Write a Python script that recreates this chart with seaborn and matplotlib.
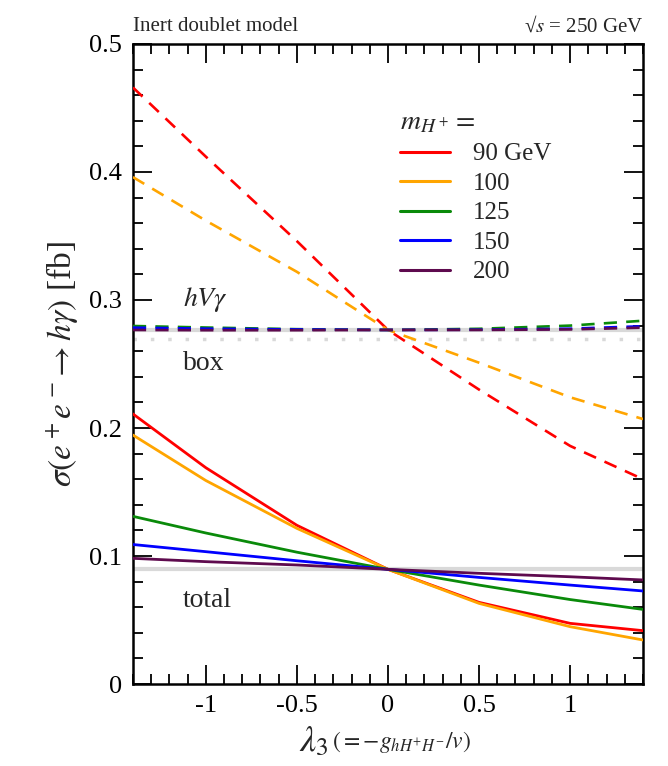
import numpy as np
import pandas as pd
import matplotlib
matplotlib.use('Agg')
import matplotlib.pyplot as plt
import seaborn as sns
from matplotlib.ticker import MultipleLocator

# --- data ---
lam = [-1.4, -1.0, -0.5, 0.0, 0.5, 1.0, 1.4]
masses = ['90 GeV', '100', '125', '150', '200']
colors = ['#ff0000', '#ffa500', '#0a8a0a', '#0000ff', '#5e0a4e']
x_ticks = [-1, -0.5, 0, 0.5, 1]
x_labels = ['-1', '-0.5', '0', '0.5', '1']
y_ticks = [0, 0.1, 0.2, 0.3, 0.4, 0.5]
y_labels = ['0', '0.1', '0.2', '0.3', '0.4', '0.5']

# hV-gamma contribution (dashed)
hvg_90 = [0.466, 0.412, 0.346, 0.2766, 0.230, 0.186, 0.160]
hvg_100 = [0.396, 0.362, 0.322, 0.2766, 0.251, 0.224, 0.207]
hvg_125 = [0.2797, 0.2785, 0.2772, 0.2766, 0.2775, 0.2800, 0.2838]
hvg_150 = [0.2784, 0.2776, 0.2770, 0.2766, 0.2768, 0.2776, 0.2795]
hvg_200 = [0.2766, 0.2764, 0.2764, 0.2766, 0.2766, 0.2770, 0.2784]

# total cross section (solid)
tot_90 = [0.211, 0.169, 0.124, 0.0896, 0.0638, 0.0474, 0.0417]
tot_100 = [0.1945, 0.159, 0.1216, 0.0896, 0.063, 0.0448, 0.0344]
tot_125 = [0.131, 0.118, 0.103, 0.0896, 0.0773, 0.066, 0.0583]
tot_150 = [0.109, 0.1034, 0.0963, 0.0896, 0.0833, 0.0773, 0.0727]
tot_200 = [0.0982, 0.0956, 0.093, 0.0896, 0.0865, 0.0838, 0.0813]

# SM reference levels (grey)
sm_hvg = 0.2766
sm_box = 0.2692
sm_total = 0.0896

hvg = pd.DataFrame({'lam': lam * 5, 'mass': np.repeat(masses, len(lam)),
                    'sigma': hvg_90 + hvg_100 + hvg_125 + hvg_150 + hvg_200})
tot = pd.DataFrame({'lam': lam * 5, 'mass': np.repeat(masses, len(lam)),
                    'sigma': tot_90 + tot_100 + tot_125 + tot_150 + tot_200})

# --- style ---
sns.set_style('ticks')
plt.rcParams['font.family'] = ['Liberation Serif', 'DejaVu Serif']
plt.rcParams['mathtext.fontset'] = 'stix'
plt.rcParams['axes.unicode_minus'] = False

fig = plt.figure(figsize=(6.68, 7.66), dpi=100)
ax = fig.add_axes([0.199, 0.107, 0.7636, 0.8356])
pal = dict(zip(masses, colors))

ax.axhline(sm_hvg, color='#d9d9d9', lw=3, zorder=1)
ax.axhline(sm_total, color='#d9d9d9', lw=3, zorder=1)
ax.axhline(sm_box, color='#d9d9d9', lw=2.5, ls=(0, (1, 4)), zorder=1)

sns.lineplot(data=hvg, x='lam', y='sigma', hue='mass', palette=pal, ax=ax,
             lw=1.9, dashes=False, linestyle=(0, (5, 3.5)), legend=False, zorder=3)
sns.lineplot(data=tot, x='lam', y='sigma', hue='mass', palette=pal, ax=ax,
             lw=2.0, zorder=3)

ax.set_xlim(-1.4, 1.4)
ax.set_ylim(0, 0.5)
ax.set_xticks(x_ticks)
ax.set_xticklabels(x_labels)
ax.set_yticks(y_ticks)
ax.set_yticklabels(y_labels)
ax.xaxis.set_minor_locator(MultipleLocator(0.1))
ax.yaxis.set_minor_locator(MultipleLocator(0.02))
ax.tick_params(which='both', direction='in', top=True, right=True, width=1.3, labelsize=19, colors='black')
ax.tick_params(which='major', length=14, pad=8)
ax.tick_params(which='minor', length=7)
for s in ax.spines.values():
    s.set_linewidth(1.8)
    s.set_color('black')

ax.set_xlabel('')
ax.set_ylabel(r'$\sigma(e^+e^-\!\rightarrow h\gamma)$ [fb]', fontsize=24, labelpad=6)
ax.text(0.325, -0.105, r'$\lambda_3$', transform=ax.transAxes, fontsize=26)
ax.text(0.39, -0.1, r'$(= -g_{hH^{+}H^{-}}/v)$', transform=ax.transAxes, fontsize=17)

ax.text(0.0, 1.012, 'Inert doublet model', transform=ax.transAxes, fontsize=15, ha='left', va='bottom')
ax.text(1.0, 1.012, '√$s$ = 250 GeV', transform=ax.transAxes, fontsize=15, ha='right', va='bottom')

ax.text(0.098, 0.59, r'$hV\gamma$', transform=ax.transAxes, fontsize=20)
ax.text(0.098, 0.49, 'box', transform=ax.transAxes, fontsize=20)
ax.text(0.098, 0.12, 'total', transform=ax.transAxes, fontsize=20)

h, l = ax.get_legend_handles_labels()
leg = ax.legend(h, l, title=r'$m_{H^+} =$', loc='upper left', bbox_to_anchor=(0.5, 0.915),
                frameon=False, fontsize=18, title_fontsize=20, handlelength=2.0,
                handletextpad=0.9, labelspacing=0.28, borderpad=0)
leg._legend_box.align = 'left'
for line in leg.get_lines():
    line.set_linewidth(2.2)

fig.savefig('out.png', dpi=100)
